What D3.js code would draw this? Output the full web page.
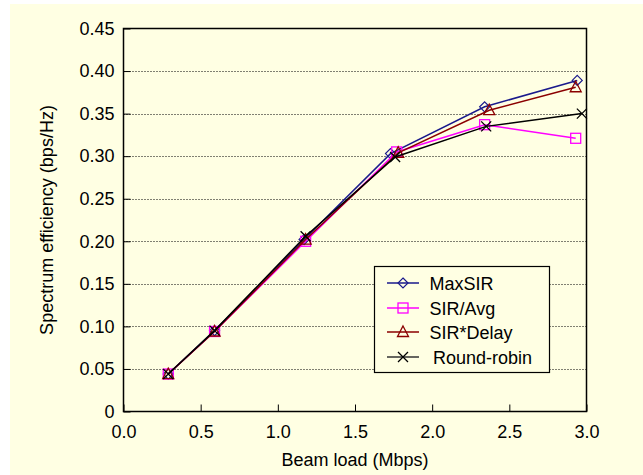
<!DOCTYPE html>
<html>
<head>
<meta charset="utf-8">
<script src="https://cdn.jsdelivr.net/npm/d3@7"></script>
<style>
  body { margin: 0; background: #fff; }
  svg { display: block; font-family: Arial, "Liberation Sans", sans-serif; }
</style>
</head>
<body>
<div class="container"></div>
<script>
// data
var seriesNames = ['MaxSIR', 'SIR/Avg', 'SIR*Delay', 'Round-robin'];
var maxSirX = [0.29, 0.59, 1.17, 1.73, 2.34, 2.94];
var maxSirY = [0.044, 0.095, 0.202, 0.303, 0.358, 0.389];
var sirAvgX = [0.29, 0.59, 1.18, 1.77, 2.34, 2.93];
var sirAvgY = [0.044, 0.094, 0.200, 0.305, 0.337, 0.321];
var sirDelayX = [0.29, 0.59, 1.18, 1.78, 2.37, 2.93];
var sirDelayY = [0.044, 0.094, 0.202, 0.304, 0.354, 0.381];
var rrX = [0.29, 0.59, 1.18, 1.76, 2.35, 2.97];
var rrY = [0.044, 0.095, 0.206, 0.299, 0.335, 0.350];
var xTicks = [0, 0.5, 1.0, 1.5, 2.0, 2.5, 3.0];
var yTicks = [0, 0.05, 0.10, 0.15, 0.20, 0.25, 0.30, 0.35, 0.40, 0.45];

var colors = ['#1a1a8c', '#ff00ff', '#8b0000', '#000000'];
var shapes = ['diamond', 'square', 'triangle', 'cross'];

var series = [
  { name: seriesNames[0], x: maxSirX, y: maxSirY },
  { name: seriesNames[1], x: sirAvgX, y: sirAvgY },
  { name: seriesNames[2], x: sirDelayX, y: sirDelayY },
  { name: seriesNames[3], x: rrX, y: rrY }
];

var W = 643, H = 475;
var pLeft = 123.5, pRight = 586.5, pTop = 28.5, pBottom = 411.5;
var fontSize = '18px';

var svg = d3.select('.container')
            .append('svg')
              .attr('width', W)
              .attr('height', H);

// background (white strip on left/top like the original)
svg.append('rect').attr('width', W).attr('height', H).style('fill', '#fff');
svg.append('rect')
    .attr('x', 10).attr('y', 4)
    .attr('width', W - 10).attr('height', H - 4)
    .style('fill', '#ffffe3');

var x = d3.scaleLinear().domain([0, 3]).range([pLeft, pRight]);
var y = d3.scaleLinear().domain([0, 0.45]).range([pBottom, pTop]);

// grid lines
svg.append('g')
  .selectAll('line')
  .data(yTicks.slice(1, -1))
  .enter().append('line')
    .attr('x1', pLeft).attr('x2', pRight)
    .attr('y1', function(d) { return Math.round(y(d)) + 0.5; })
    .attr('y2', function(d) { return Math.round(y(d)) + 0.5; })
    .style('stroke', '#000')
    .style('stroke-width', 1)
    .style('stroke-dasharray', '1,2');

// y axis, ticks inside
var yAxis = d3.axisLeft(y).tickValues(yTicks).tickSizeInner(-7).tickSizeOuter(0)
  .tickPadding(9)
  .tickFormat(function(d) { return d === 0 ? '0' : d3.format('.2f')(d); });
var gy = svg.append('g').attr('transform', 'translate(' + pLeft + ',0)').call(yAxis);
gy.select('.domain').remove();
gy.selectAll('text').style('font-size', fontSize).style('fill', '#000')
  .attr('font-family', 'Arial, "Liberation Sans", sans-serif');
gy.selectAll('line').style('stroke', '#000');

// x axis, ticks inside
var xAxis = d3.axisBottom(x).tickValues(xTicks).tickSizeInner(-7).tickSizeOuter(0)
  .tickPadding(14)
  .tickFormat(d3.format('.1f'));
var gx = svg.append('g').attr('transform', 'translate(0,' + pBottom + ')').call(xAxis);
gx.select('.domain').remove();
gx.selectAll('text').style('font-size', fontSize).style('fill', '#000')
  .attr('font-family', 'Arial, "Liberation Sans", sans-serif');
gx.selectAll('line').style('stroke', '#000');

// frame
svg.append('rect')
    .attr('x', pLeft).attr('y', pTop)
    .attr('width', pRight - pLeft).attr('height', pBottom - pTop)
    .style('fill', 'none')
    .style('stroke', '#000')
    .style('stroke-width', 1.5);

// axis titles
svg.append('text')
    .attr('x', (pLeft + pRight) / 2).attr('y', 465.5)
    .attr('text-anchor', 'middle')
    .style('font-size', fontSize)
    .text('Beam load (Mbps)');

svg.append('text')
    .attr('transform', 'translate(53,' + (pTop + pBottom) / 2 + ') rotate(-90)')
    .attr('text-anchor', 'middle')
    .style('font-size', fontSize)
    .text('Spectrum efficiency (bps/Hz)');

function marker(g, shape, color, cx, cy) {
  if (shape === 'diamond') {
    g.append('path')
      .attr('d', 'M' + cx + ',' + (cy - 5) + 'L' + (cx + 5) + ',' + cy + 'L' + cx + ',' + (cy + 5) + 'L' + (cx - 5) + ',' + cy + 'Z')
      .style('fill', 'none').style('stroke', color).style('stroke-width', 1.2);
  } else if (shape === 'square') {
    g.append('rect')
      .attr('x', cx - 5).attr('y', cy - 5).attr('width', 10).attr('height', 10)
      .style('fill', 'none').style('stroke', color).style('stroke-width', 1.3);
  } else if (shape === 'triangle') {
    g.append('path')
      .attr('d', 'M' + cx + ',' + (cy - 6) + 'L' + (cx + 5.5) + ',' + (cy + 4.5) + 'L' + (cx - 5.5) + ',' + (cy + 4.5) + 'Z')
      .style('fill', 'none').style('stroke', color).style('stroke-width', 1.3);
  } else {
    g.append('path')
      .attr('d', 'M' + (cx - 5) + ',' + (cy - 5) + 'L' + (cx + 5) + ',' + (cy + 5) + 'M' + (cx + 5) + ',' + (cy - 5) + 'L' + (cx - 5) + ',' + (cy + 5))
      .style('fill', 'none').style('stroke', color).style('stroke-width', 1.3);
  }
}

var line = d3.line()
  .x(function(d) { return x(d[0]); })
  .y(function(d) { return y(d[1]); });

series.forEach(function(s, i) {
  var pts = s.x.map(function(v, j) { return [v, s.y[j]]; });
  var g = svg.append('g');
  g.append('path')
    .datum(pts)
    .attr('d', line)
    .style('fill', 'none')
    .style('stroke', colors[i])
    .style('stroke-width', 1.5);
  pts.forEach(function(p) { marker(g, shapes[i], colors[i], x(p[0]), y(p[1])); });
});

// legend
var lg = svg.append('g');
lg.append('rect')
    .attr('x', 374.5).attr('y', 266.5)
    .attr('width', 175).attr('height', 106)
    .style('fill', '#ffffe3')
    .style('stroke', '#000')
    .style('stroke-width', 1.2);

var legendY = [283, 308, 332, 357];
series.forEach(function(s, i) {
  lg.append('line')
    .attr('x1', 387).attr('x2', 419)
    .attr('y1', legendY[i]).attr('y2', legendY[i])
    .style('stroke', i === 3 ? '#333' : colors[i])
    .style('stroke-width', 1.5);
  marker(lg, shapes[i], i === 3 ? '#000' : colors[i], 403, legendY[i]);
  lg.append('text')
    .attr('x', i === 3 ? 433 : 429.5)
    .attr('y', legendY[i] + 6.5)
    .style('font-size', fontSize)
    .text(s.name);
});
</script>
</body>
</html>
